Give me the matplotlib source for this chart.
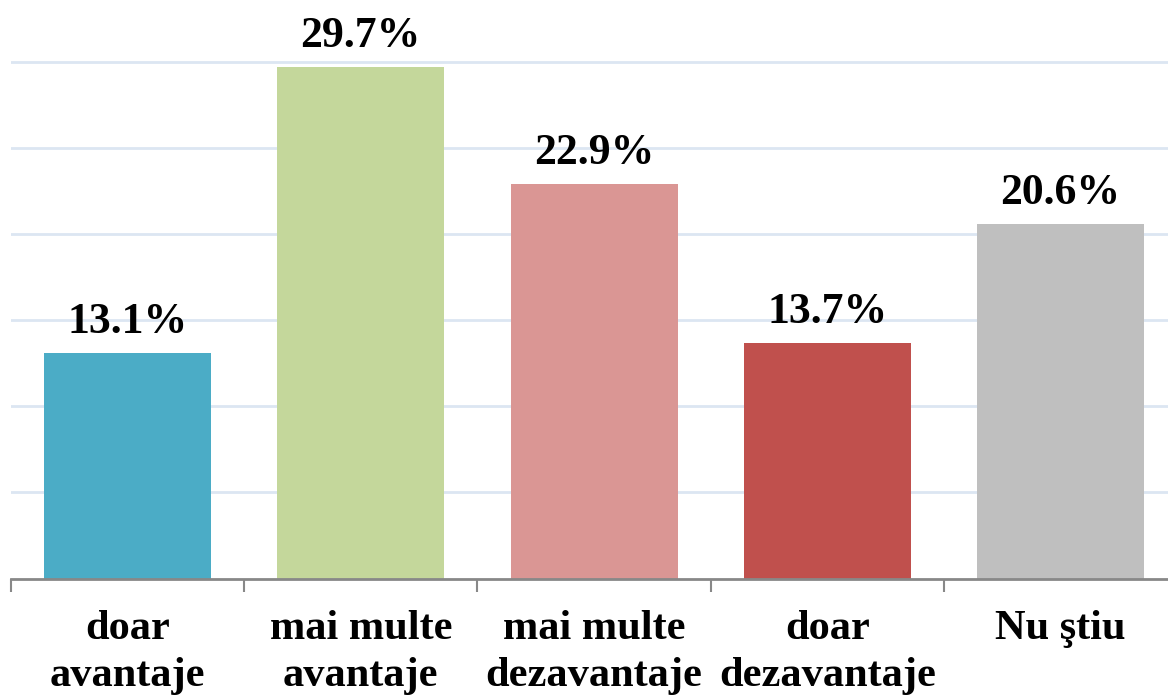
import matplotlib
matplotlib.use("Agg")
import matplotlib.pyplot as plt

categories = ["doar\navantaje", "mai multe\navantaje", "mai multe\ndezavantaje",
              "doar\ndezavantaje", "Nu ştiu"]
values = [13.1, 29.7, 22.9, 13.7, 20.6]
colors = ["#4BACC6", "#C4D79B", "#DA9694", "#C0504D", "#BFBFBF"]

plt.rcParams['font.family'] = ['Liberation Serif', 'DejaVu Serif']

fig = plt.figure(figsize=(11.68, 6.99), dpi=100)
ax = fig.add_axes([10.9 / 1168, (699 - 578.5) / 699, 1166.25 / 1168, 578.5 / 699])

x = range(len(values))
bars = ax.bar(x, values, width=0.716, color=colors, zorder=2)

for b, v in zip(bars, values):
    ax.annotate(f"{v}%", (b.get_x() + b.get_width() / 2, v),
                xytext=(0, 14.4), textcoords="offset points",
                ha="center", va="baseline", fontsize=31.5, fontweight="bold")

ax.set_xlim(-0.5, 4.5)
ax.set_ylim(0, 33.6)
ax.set_yticks([5, 10, 15, 20, 25, 30])
ax.yaxis.grid(True, color="#DCE6F2", linewidth=2, zorder=0)
ax.set_axisbelow(True)
ax.tick_params(axis="y", left=False, labelleft=False)

ax.set_xticks([i - 0.5 for i in range(5)])
ax.set_xticklabels([])
ax.set_xticks(list(x), minor=True)
ax.set_xticklabels(categories, minor=True, fontsize=30.5, fontweight="bold",
                   linespacing=1.3, va="top")
ax.tick_params(axis="x", which="major", length=9.4, width=1.5, color="#888888", direction="out")
ax.tick_params(axis="x", which="minor", length=0, pad=23)

for s in ["top", "right", "left"]:
    ax.spines[s].set_visible(False)
ax.spines["bottom"].set_color("#888888")
ax.spines["bottom"].set_linewidth(2)

plt.savefig("out.png", dpi=100)
